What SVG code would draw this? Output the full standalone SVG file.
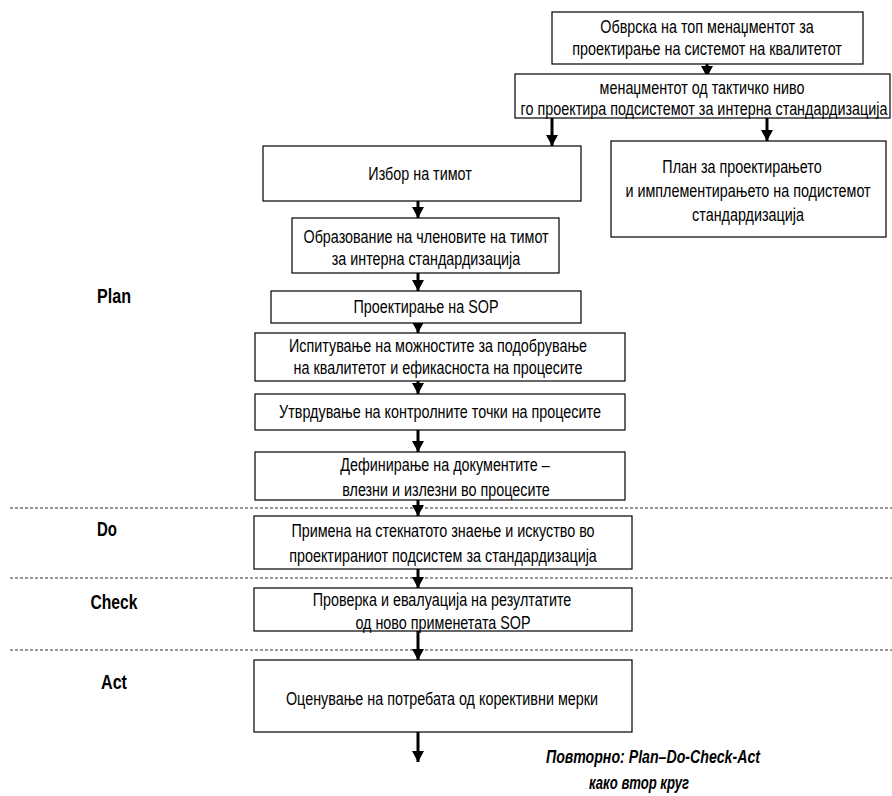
<svg xmlns="http://www.w3.org/2000/svg" width="892" height="796" viewBox="0 0 892 796">
<style>
.box{fill:#fff;stroke:#000;stroke-width:1.2}
.t{font-family:"Liberation Sans",Arial,sans-serif;font-size:17.5px;fill:#000;text-anchor:middle;transform-box:fill-box;transform-origin:center;transform:scaleX(0.82)}
.lbl{font-family:"Liberation Sans",Arial,sans-serif;font-size:21px;font-weight:bold;fill:#000;text-anchor:middle}
.it{font-family:"Liberation Sans",Arial,sans-serif;font-size:19px;font-weight:bold;font-style:italic;fill:#000;text-anchor:middle}
.arr{stroke:#000;stroke-width:3;fill:none;marker-end:url(#ah)}
.dash{stroke:#333;stroke-width:1;stroke-dasharray:3,2;fill:none}
</style>
<defs>
<marker id="ah" markerUnits="userSpaceOnUse" markerWidth="12" markerHeight="12" refX="11" refY="6" orient="auto">
<path d="M0,0 L11,6 L0,12 z" fill="#000"/>
</marker>
</defs>
<rect width="892" height="796" fill="#fff"/>
<g id="phases">
<line class="dash" x1="10" y1="508" x2="892" y2="508"/>
<line class="dash" x1="10" y1="578" x2="892" y2="578"/>
<line class="dash" x1="10" y1="650" x2="892" y2="650"/>
<text class="lbl" x="114" y="303" textLength="34" lengthAdjust="spacingAndGlyphs">Plan</text>
<text class="lbl" x="107" y="536" textLength="20" lengthAdjust="spacingAndGlyphs">Do</text>
<text class="lbl" x="114" y="609" textLength="47" lengthAdjust="spacingAndGlyphs">Check</text>
<text class="lbl" x="114" y="689" textLength="26" lengthAdjust="spacingAndGlyphs">Act</text>
</g>
<g id="connectors">
<line class="arr" x1="707" y1="64" x2="707" y2="77"/>
<line class="arr" x1="552" y1="118" x2="552" y2="146"/>
<line class="arr" x1="767" y1="118" x2="767" y2="141"/>
<line class="arr" x1="418" y1="201" x2="418" y2="218"/>
<line class="arr" x1="418" y1="273" x2="418" y2="291"/>
<line class="arr" x1="418" y1="316" x2="418" y2="333"/>
<line class="arr" x1="418" y1="373" x2="418" y2="394"/>
<line class="arr" x1="418" y1="430" x2="418" y2="452"/>
<line class="arr" x1="418" y1="497" x2="418" y2="516"/>
<line class="arr" x1="418" y1="569" x2="418" y2="588"/>
<line class="arr" x1="418" y1="631" x2="418" y2="660"/>
<line class="arr" x1="418" y1="732" x2="418" y2="762"/>
</g>
<g id="n1"><rect class="box" x="552" y="12" width="311" height="52"/>
<text class="t" x="707" y="33">Обврска на топ менаџментот за</text>
<text class="t" x="707" y="55">проектирање на системот на квалитетот</text></g>
<g id="n2"><rect class="box" x="515" y="74" width="375" height="44"/>
<text class="t" x="702" y="94">менаџментот од тактичко ниво</text>
<text class="t" x="704" y="115">го проектира подсистемот за интерна стандардизација</text></g>
<g id="n3"><rect class="box" x="263" y="146" width="318" height="55"/>
<text class="t" x="420" y="180">Избор на тимот</text></g>
<g id="n4"><rect class="box" x="611" y="141" width="275" height="96"/>
<text class="t" x="742" y="173">План за проектирањето</text>
<text class="t" x="748" y="197">и имплементирањето на подистемот</text>
<text class="t" x="748" y="221">стандардизација</text></g>
<g id="n5"><rect class="box" x="292" y="218" width="267" height="55"/>
<text class="t" x="426" y="243">Образование на членовите на тимот</text>
<text class="t" x="426" y="265">за интерна стандардизација</text></g>
<g id="n6"><rect class="box" x="271" y="291" width="310" height="32"/>
<text class="t" x="426" y="313">Проектирање на SOP</text></g>
<g id="n7"><rect class="box" x="255" y="333" width="370" height="48"/>
<text class="t" x="438" y="352">Испитување на можностите за подобрување</text>
<text class="t" x="438" y="374">на квалитетот и ефикасноста на процесите</text></g>
<g id="n8"><rect class="box" x="255" y="394" width="370" height="36"/>
<text class="t" x="440" y="418">Утврдување на контролните точки на процесите</text></g>
<g id="n9"><rect class="box" x="255" y="452" width="370" height="48"/>
<text class="t" x="445" y="471">Дефинирање на документите –</text>
<text class="t" x="446" y="496">влезни и излезни во процесите</text></g>
<g id="n10"><rect class="box" x="254" y="516" width="378" height="53"/>
<text class="t" x="443" y="537">Примена на стекнатото знаење и искуство во</text>
<text class="t" x="443" y="562">проектираниот подсистем за стандардизација</text></g>
<g id="n11"><rect class="box" x="254" y="588" width="378" height="43"/>
<text class="t" x="442" y="606">Проверка и евалуација на резултатите</text>
<text class="t" x="443" y="629">од ново применетата SOP</text></g>
<g id="n12"><rect class="box" x="254" y="660" width="378" height="72"/>
<text class="t" x="442" y="705">Оценување на потребата од корективни мерки</text></g>
<g id="note">
<text class="it" x="653" y="763" textLength="214" lengthAdjust="spacingAndGlyphs">Повторно: Plan–Do-Check-Act</text>
<text class="it" x="639" y="789" textLength="100" lengthAdjust="spacingAndGlyphs">како втор круг</text>
</g>
</svg>
